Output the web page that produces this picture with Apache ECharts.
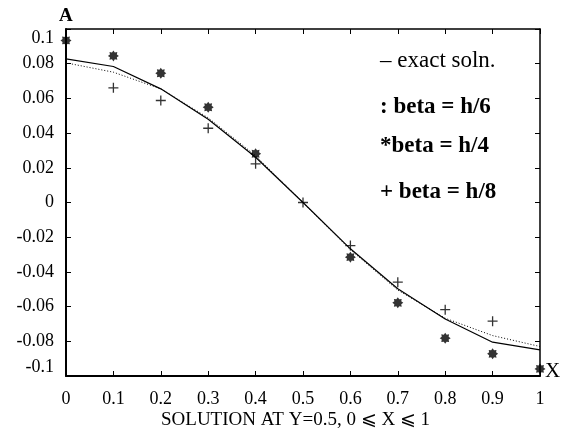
<!DOCTYPE html>
<html>
<head>
<meta charset="utf-8">
<script src="https://cdn.jsdelivr.net/npm/echarts@6/dist/echarts.min.js"></script>
<style>
  html, body { margin: 0; padding: 0; background: #fff; }
  #chart { width: 561px; height: 438px; }
</style>
</head>
<body>
<div id="chart"></div>
<script>
// x positions of the nodes
const xNodes = [0, 0.1, 0.2, 0.3, 0.4, 0.5, 0.6, 0.7, 0.8, 0.9, 1];

// exact solution (solid) and beta = h/6 (dotted)
const exactSoln = [0.0828, 0.0784, 0.0655, 0.048, 0.0261, 0, -0.0267, -0.0497, -0.0671, -0.0805, -0.0849];
const betaH6 = [0.0805, 0.0751, 0.0655, 0.0488, 0.027, 0, -0.0272, -0.0505, -0.0667, -0.0767, -0.083];

// beta = h/4 (stars), beta = h/8 (crosses); null = no mark
const betaH4 = [0.0934, 0.0845, 0.0745, 0.0549, 0.0281, null, -0.0315, -0.0578, -0.0782, -0.0872, -0.0959];
const betaH8 = [null, 0.0661, 0.0588, 0.0428, 0.0223, 0, -0.0248, -0.0459, -0.0618, -0.0684, null];

const legendLines = ['\u2013 exact soln.', ': beta = h/6', '*beta = h/4', '+ beta = h/8'];
const xTitle = 'SOLUTION AT Y=0.5, 0 \u2A7D X \u2A7D 1';

const FONT = 'Liberation Serif';

function pares(ys) {
  const out = [];
  ys.forEach((y, i) => { if (y !== null) out.push([xNodes[i], y]); });
  return out;
}

// 8-pointed star blob for beta = h/4
function caminhoEstrela() {
  let d = '';
  for (let i = 0; i < 16; i++) {
    const r = i % 2 === 0 ? 5 : 3.4;
    const a = Math.PI * i / 8;
    const px = (5 + r * Math.cos(a)).toFixed(2);
    const py = (5 + r * Math.sin(a)).toFixed(2);
    d += (i === 0 ? 'M' : 'L') + px + ',' + py;
  }
  return 'path://' + d + 'Z';
}

const chart = echarts.init(document.getElementById('chart'));

const eixoX = (pos, comRotulo, largura) => ({
  type: 'value', position: pos, min: 0, max: 1, interval: 0.1,
  axisLine: { show: true, onZero: false, lineStyle: { color: '#000', width: largura } },
  axisTick: { show: true, inside: true, length: 5, lineStyle: { color: '#000', width: 1 } },
  axisLabel: {
    show: comRotulo, color: '#000', fontFamily: FONT, fontSize: 18, margin: 14,
    formatter: v => String(+v.toFixed(1))
  },
  splitLine: { show: false }
});

const eixoY = (pos, comRotulo, largura) => ({
  type: 'value', position: pos, min: -0.1, max: 0.1, interval: 0.02,
  axisLine: { show: true, onZero: false, lineStyle: { color: '#000', width: largura } },
  axisTick: { show: true, inside: true, length: 5, lineStyle: { color: '#000', width: 1 } },
  axisLabel: {
    show: comRotulo, color: '#000', fontFamily: FONT, fontSize: 18, margin: 12,
    verticalAlignMaxLabel: 'top', verticalAlignMinLabel: 'bottom',
    formatter: v => String(+v.toFixed(2))
  },
  splitLine: { show: false }
});

chart.setOption({
  backgroundColor: '#fff',
  animation: false,
  grid: { left: 66, right: 21, top: 29, bottom: 62, containLabel: false },
  xAxis: [eixoX('bottom', true, 2), eixoX('top', false, 1.5)],
  yAxis: [eixoY('left', true, 2), eixoY('right', false, 1.5)],
  graphic: [
    { type: 'text', left: 59, top: 7, style: { text: 'A', font: 'bold 19px ' + FONT, fill: '#000' } },
    { type: 'text', left: 545, top: 361, style: { text: 'X', font: '21px ' + FONT, fill: '#000' } },
    { type: 'text', left: 161, top: 411, style: { text: xTitle, font: '19px ' + FONT, fill: '#000' } }
  ].concat(legendLines.map((t, i) => ({
    type: 'text', left: 380, top: [49, 96, 135, 181][i],
    style: { text: t, font: (i === 0 ? '' : 'bold ') + '23px ' + FONT, fill: '#000' }
  }))),
  series: [
    {
      name: 'exact soln.', type: 'line', data: pares(exactSoln), symbol: 'none',
      lineStyle: { color: '#000', width: 1.2 }
    },
    {
      name: 'beta = h/6', type: 'line', data: pares(betaH6), symbol: 'none',
      lineStyle: { color: '#000', width: 1, type: [1, 2] }
    },
    {
      name: 'beta = h/4', type: 'scatter', data: pares(betaH4),
      symbol: caminhoEstrela(), symbolSize: 11,
      itemStyle: { color: '#000' }
    },
    {
      name: 'beta = h/8', type: 'scatter', data: pares(betaH8),
      symbol: 'path://M0,5L10,5M5,0L5,10', symbolSize: 10,
      itemStyle: { color: 'none', borderColor: '#000', borderWidth: 1.3 }
    }
  ]
});
</script>
</body>
</html>
